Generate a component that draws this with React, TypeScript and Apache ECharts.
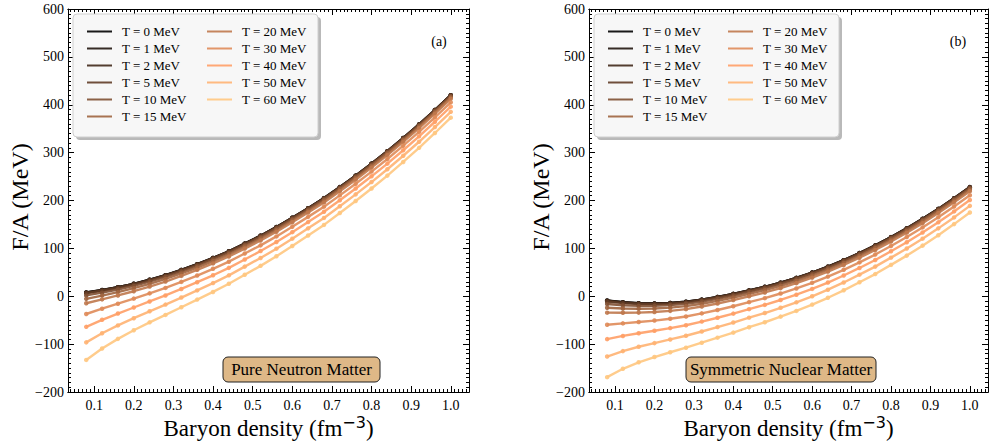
import React, { useEffect, useRef } from 'react';
import * as echarts from 'echarts';

const densities = [0.08, 0.12, 0.16, 0.2, 0.24, 0.28, 0.32, 0.36, 0.4, 0.44, 0.48, 0.52, 0.56, 0.6, 0.64, 0.68, 0.72, 0.76, 0.8, 0.84, 0.88, 0.92, 0.96, 1.0];
const seriesNames = ['T = 0 MeV', 'T = 1 MeV', 'T = 2 MeV', 'T = 5 MeV', 'T = 10 MeV', 'T = 15 MeV', 'T = 20 MeV', 'T = 30 MeV', 'T = 40 MeV', 'T = 50 MeV', 'T = 60 MeV'];
const colors = ['#000000', '#20140d', '#402819', '#603c26', '#7f5033', '#9f643f', '#bf784c', '#df8b59', '#ff9f66', '#ffb372', '#ffc77f'];

// Pure neutron matter F/A (MeV)
const pnmT0 = [8, 13, 19, 26, 34.5, 44, 55, 67, 80, 94, 110, 126.5, 144.5, 164, 184, 205, 228, 252, 277, 303, 330.5, 359, 389, 420];
const pnmT1 = [7.9, 12.9, 18.9, 26, 34.4, 43.9, 54.9, 66.9, 79.9, 93.9, 109.9, 126.4, 144.4, 163.9, 183.9, 204.9, 227.9, 251.9, 276.9, 302.9, 330.4, 358.9, 388.9, 419.9];
const pnmT2 = [7.6, 12.6, 18.7, 25.7, 34.2, 43.8, 54.8, 66.8, 79.8, 93.8, 109.8, 126.3, 144.3, 163.8, 183.8, 204.8, 227.8, 251.8, 276.8, 302.8, 330.3, 358.9, 388.9, 419.9];
const pnmT5 = [6.2, 11.4, 17.6, 24.7, 33.3, 42.9, 54, 66, 79.1, 93.1, 109.2, 125.7, 143.7, 163.2, 183.3, 204.3, 227.3, 251.3, 276.3, 302.3, 329.8, 358.4, 388.4, 419.4];
const pnmT10 = [1.7, 7.5, 14.1, 21.6, 30.5, 40.3, 51.5, 63.7, 76.8, 90.9, 107.1, 123.7, 141.8, 161.3, 181.4, 202.5, 225.6, 249.6, 274.7, 300.7, 328.2, 356.8, 386.8, 417.9];
const pnmT15 = [-5.4, 1.4, 8.7, 16.8, 26, 36.1, 47.6, 60, 73.3, 87.5, 103.8, 120.5, 138.7, 158.4, 178.6, 199.7, 222.9, 247, 272.1, 298.2, 325.7, 354.3, 384.4, 415.5];
const pnmT20 = [-14.6, -6.5, 1.7, 10.5, 20.3, 30.7, 42.5, 55.2, 68.6, 83.1, 99.6, 116.4, 134.7, 154.6, 174.9, 196, 219.4, 243.5, 268.7, 294.8, 322.5, 351.2, 381.3, 412.5];
const pnmT30 = [-37.1, -26, -15.6, -5, 6, 17.4, 30, 43.3, 57.3, 72.2, 89.2, 106.3, 125, 145.1, 165.8, 187.1, 210.7, 235, 260.4, 286.7, 314.5, 343.3, 373.6, 405];
const pnmT40 = [-63.9, -49.2, -36.1, -23.5, -10.9, 1.7, 15.2, 29.3, 43.8, 59.3, 76.8, 94.4, 113.4, 133.9, 154.9, 176.4, 200.5, 225, 250.5, 277, 305, 334, 364.5, 396];
const pnmT50 = [-96.3, -77.3, -60.9, -45.8, -31.4, -17.4, -2.7, 12.2, 27.5, 43.7, 61.9, 79.9, 99.4, 120.3, 141.8, 163.6, 188, 212.8, 238.5, 265.3, 293.5, 322.7, 353.5, 385.2];
const pnmT60 = [-133, -109, -89, -71, -54.5, -39, -23, -7, 9, 26, 45, 63.5, 83.5, 105, 127, 149, 174, 199, 225, 252, 280.5, 310, 341, 373];

// Symmetric nuclear matter F/A (MeV)
const snmT0 = [-9, -12.5, -14.5, -15, -14, -11.5, -7, -1.5, 5, 12.3, 19.7, 28.4, 38.4, 49.5, 61.8, 75.4, 90.2, 106.3, 123.5, 141.9, 161.7, 182.5, 204.7, 228];
const snmT1 = [-9.2, -12.6, -14.6, -15.1, -14.1, -11.6, -7.1, -1.6, 4.9, 12.2, 19.6, 28.3, 38.3, 49.4, 61.7, 75.3, 90.1, 106.2, 123.4, 141.8, 161.6, 182.4, 204.6, 227.9];
const snmT2 = [-9.5, -12.9, -14.9, -15.3, -14.3, -11.8, -7.3, -1.8, 4.8, 12.1, 19.5, 28.2, 38.2, 49.3, 61.6, 75.2, 90, 106.1, 123.3, 141.7, 161.5, 182.3, 204.5, 227.8];
const snmT5 = [-11.1, -14.3, -16.1, -16.5, -15.3, -12.7, -8.2, -2.6, 3.9, 11.3, 18.7, 27.5, 37.5, 48.6, 61, 74.6, 89.4, 105.5, 122.7, 141.2, 161, 181.8, 204, 227.3];
const snmT10 = [-16.1, -18.7, -20, -20, -18.6, -15.8, -11.1, -5.3, 1.4, 8.8, 16.4, 25.2, 35.3, 46.5, 58.9, 72.6, 87.5, 103.6, 120.9, 139.3, 159.2, 180, 202.3, 225.6];
const snmT15 = [-24, -25.6, -26.2, -25.6, -23.8, -20.6, -15.6, -9.6, -2.7, 5, 12.7, 21.7, 31.8, 43.1, 55.6, 69.4, 84.4, 100.6, 118, 136.5, 156.4, 177.3, 199.6, 223];
const snmT20 = [-34.3, -34.6, -34.2, -32.9, -30.5, -26.9, -21.4, -15.1, -8, 0, 7.9, 17, 27.4, 38.8, 51.4, 65.3, 80.4, 96.7, 114.2, 132.8, 152.7, 173.7, 196.1, 219.5];
const snmT30 = [-59.6, -56.7, -53.9, -50.8, -47, -42.2, -35.8, -28.7, -20.9, -12.3, -4, 5.7, 16.3, 28.1, 41, 55.2, 70.7, 87.1, 104.9, 123.7, 143.8, 164.9, 187.4, 211];
const snmT40 = [-89.6, -82.9, -77.2, -72.1, -66.5, -60.5, -52.9, -44.9, -36.3, -27, -18, -7.8, 3.2, 15.3, 28.6, 43.3, 59.1, 75.7, 93.9, 112.8, 133.1, 154.4, 177.2, 201];
const snmT50 = [-125.9, -114.6, -105.5, -97.9, -90.2, -82.5, -73.6, -64.4, -54.9, -44.7, -35.1, -24.1, -12.7, -0.1, 13.7, 28.8, 45.1, 61.9, 80.6, 99.7, 120.3, 141.8, 164.7, 188.8];
const snmT60 = [-169, -151.5, -138, -127, -117, -107.5, -97, -86.5, -76, -64.7, -54.3, -42.6, -30.6, -17.5, -3.2, 12.4, 29.2, 46.3, 65.5, 84.9, 105.7, 127.5, 150.7, 175];

const pnmSeries = [pnmT0, pnmT1, pnmT2, pnmT5, pnmT10, pnmT15, pnmT20, pnmT30, pnmT40, pnmT50, pnmT60];
const snmSeries = [snmT0, snmT1, snmT2, snmT5, snmT10, snmT15, snmT20, snmT30, snmT40, snmT50, snmT60];

const xMajorTicks = [0.1, 0.2, 0.3, 0.4, 0.5, 0.6, 0.7, 0.8, 0.9, 1.0];
const yMin = -200;
const yMax = 600;
const yStep = 100;
const xMin = 0.034;
const xMax = 1.046;

const FONT = 'Liberation Serif';

const xMinorTicks: number[] = [];
for (let k = 4; k <= 104; k++) {
  if (k % 10 !== 0) xMinorTicks.push(k / 100);
}

const GRIDS = [
  { left: 68, top: 9, width: 401, height: 383 },
  { left: 589, top: 9, width: 399, height: 383 },
];

function makeXAxes(gridIndex: number) {
  const base = {
    type: 'value',
    gridIndex,
    min: xMin,
    max: xMax,
    splitLine: { show: false },
    axisLine: { show: true, onZero: false, lineStyle: { color: '#000', width: 1 } },
  };
  const majorTick = (customValues: number[], length: number) => ({
    show: true, inside: true, length, customValues, lineStyle: { color: '#000', width: 1 },
  });
  return [
    {
      ...base, position: 'bottom',
      axisTick: majorTick(xMajorTicks, 6),
      axisLabel: {
        show: true, customValues: xMajorTicks, formatter: (v: number) => v.toFixed(1),
        fontSize: 14, fontFamily: FONT, color: '#000', margin: 6,
      },
    },
    { ...base, position: 'bottom', axisTick: majorTick(xMinorTicks, 3), axisLabel: { show: false, customValues: xMinorTicks } },
    { ...base, position: 'top', axisTick: majorTick(xMajorTicks, 6), axisLabel: { show: false, customValues: xMajorTicks } },
    { ...base, position: 'top', axisTick: majorTick(xMinorTicks, 3), axisLabel: { show: false, customValues: xMinorTicks } },
  ];
}

function makeYAxes(gridIndex: number) {
  const base = {
    type: 'value',
    gridIndex,
    min: yMin,
    max: yMax,
    interval: yStep,
    splitLine: { show: false },
    axisLine: { show: true, onZero: false, lineStyle: { color: '#000', width: 1 } },
    axisTick: { show: true, inside: true, length: 6, lineStyle: { color: '#000', width: 1 } },
    minorTick: { show: true, splitNumber: 10, length: 3, lineStyle: { color: '#000', width: 1 } },
  };
  return [
    {
      ...base, position: 'left',
      axisLabel: {
        show: true, fontSize: 14, fontFamily: FONT, color: '#000', margin: 4,
        formatter: (v: number) => String(v).replace('-', '\u2212'),
      },
    },
    { ...base, position: 'right', axisLabel: { show: false } },
  ];
}

function makeSeries(data: number[][], xAxisIndex: number, yAxisIndex: number) {
  return data.map((vals, i) => ({
    type: 'line',
    name: seriesNames[i],
    xAxisIndex,
    yAxisIndex,
    data: densities.map((d, j) => [d, vals[j]]),
    symbol: 'circle',
    symbolSize: 4.5,
    showSymbol: true,
    silent: true,
    lineStyle: { width: 2.4, color: colors[i], opacity: 0.9 },
    itemStyle: { color: colors[i], opacity: 0.9, borderWidth: 0 },
    emphasis: { disabled: true },
    z: 2 + i * 0.01,
  }));
}

function makeLegends(offsetX: number) {
  const common = {
    orient: 'vertical',
    top: 23,
    padding: 0,
    itemGap: 0,
    itemWidth: 25,
    itemHeight: 2,
    icon: 'rect',
    selectedMode: false,
    z: 10,
    textStyle: { fontSize: 13, fontFamily: FONT, color: '#000', lineHeight: 17, padding: [0, 0, 0, 5] },
  };
  return [
    { ...common, left: 87 + offsetX, data: seriesNames.slice(0, 6) },
    { ...common, left: 207 + offsetX, data: seriesNames.slice(6) },
  ];
}

function legendBox(offsetX: number) {
  return [
    {
      type: 'rect', z: 5, silent: true,
      shape: { x: 76 + offsetX, y: 17, width: 245, height: 123, r: 4 },
      style: { fill: '#a8a8a8', opacity: 0.8 },
    },
    {
      type: 'rect', z: 6, silent: true,
      shape: { x: 73 + offsetX, y: 14, width: 245, height: 123, r: 4 },
      style: { fill: '#f7f7f7', stroke: '#cfcfcf', lineWidth: 1 },
    },
  ];
}

function matterBox(x: number, w: number, label: string) {
  return [
    {
      type: 'rect', z: 6, silent: true,
      shape: { x, y: 357, width: w, height: 25, r: 5 },
      style: { fill: '#deb887', stroke: '#222', lineWidth: 1 },
    },
    {
      type: 'text', z: 7, silent: true,
      x: x + w / 2, y: 369.5,
      style: { text: label, fontSize: 17, fontFamily: FONT, fill: '#000', align: 'center', verticalAlign: 'middle' },
    },
  ];
}

function axisTitles(centerX: number, yTitleX: number) {
  return [
    {
      type: 'text', z: 7, silent: true,
      x: yTitleX, y: 197, rotation: Math.PI / 2,
      style: { text: 'F/A (MeV)', fontSize: 24, fontFamily: FONT, fill: '#000', align: 'center', verticalAlign: 'middle' },
    },
    {
      type: 'text', z: 7, silent: true,
      x: centerX, y: 428,
      style: {
        text: '{b|Baryon density (fm}{s|\u22123}{b|)}',
        align: 'center', verticalAlign: 'middle',
        rich: {
          b: { fontSize: 23, fontFamily: FONT, fill: '#000', lineHeight: 28 },
          s: { fontSize: 16, fontFamily: 'DejaVu Sans', fill: '#000', verticalAlign: 'top', lineHeight: 16 },
        },
      },
    },
  ];
}

export default function App() {
  const ref = useRef<HTMLDivElement>(null);
  useEffect(() => {
    if (!ref.current) return;
    const chart = echarts.init(ref.current, undefined, { renderer: 'svg' });
    const option = {
      animation: false,
      backgroundColor: '#ffffff',
      grid: GRIDS.map((g) => ({ ...g, containLabel: false })),
      xAxis: [...makeXAxes(0), ...makeXAxes(1)],
      yAxis: [...makeYAxes(0), ...makeYAxes(1)],
      legend: [...makeLegends(0), ...makeLegends(521)],
      series: [...makeSeries(pnmSeries, 0, 0), ...makeSeries(snmSeries, 4, 2)],
      graphic: [
        ...legendBox(0),
        ...legendBox(521),
        ...matterBox(223, 157, 'Pure Neutron Matter'),
        ...matterBox(686, 190, 'Symmetric Nuclear Matter'),
        { type: 'text', z: 7, silent: true, x: 439, y: 41, style: { text: '(a)', fontSize: 14, fontFamily: FONT, fill: '#000', align: 'center', verticalAlign: 'middle' } },
        { type: 'text', z: 7, silent: true, x: 958, y: 41, style: { text: '(b)', fontSize: 14, fontFamily: FONT, fill: '#000', align: 'center', verticalAlign: 'middle' } },
        ...axisTitles(268.5, 20),
        ...axisTitles(788.5, 541),
      ],
    };
    chart.setOption(option as any);
    return () => chart.dispose();
  }, []);
  return (
    <div
      ref={ref}
      style={{ position: 'absolute', left: 0, top: 0, width: 989, height: 446 }}
    />
  );
}
